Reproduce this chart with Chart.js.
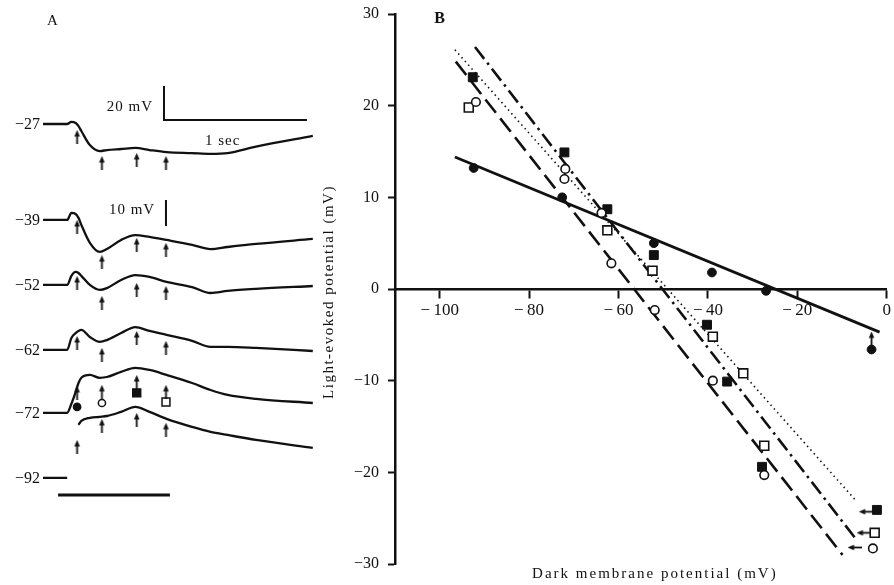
<!DOCTYPE html>
<html>
<head>
<meta charset="utf-8">
<script src="https://cdn.jsdelivr.net/npm/chart.js@4.4.0/dist/chart.umd.min.js"></script>
<style>
  html, body { margin: 0; padding: 0; background: #fff; }
  #wrap { position: relative; width: 894px; height: 585px; }
  #traces { position: absolute; left: 0; top: 0; }
  #plot { position: absolute; left: 318px; top: 0; }
</style>
</head>
<body>
<div id="wrap">
  <canvas id="traces" width="330" height="520"></canvas>
  <canvas id="plot" width="576" height="585"></canvas>
</div>
<script>
// ---- panel A: recordings (time in s, deflection in mV of the 10 mV bar) ----
const traceHolding = [-27, -39, -52, -62, -72, -92];
const traceTimes = [0, 0.17, 0.2, 0.23, 0.25, 0.27, 0.33, 0.4, 0.45, 0.55, 0.65, 0.75, 0.87, 1.05, 1.18, 1.3, 1.5, 1.9];
const trace27 = [0, 0, 0.8, 0.4, -0.8, -2.7, -8.1, -10.4, -10, -9.6, -9.2, -10, -10.8, -11.2, -11.5, -11.2, -8.7, -4.6];
const trace39 = [0, 0, 2.7, 2.3, 0.8, -1.9, -8.8, -12.3, -11.2, -7.7, -5.8, -6.5, -7.7, -9.6, -11.2, -10.4, -9.2, -7.3];
const trace52 = [0, 0, 3.5, 5, 4.6, 3.5, 0, -1.9, -1.2, 1.9, 3.8, 3.1, 1.2, -0.8, -3.1, -2.3, -1.5, -0.4];
const trace62 = [0, 0, 4.6, 6.5, 7.3, 7.7, 5, 3.1, 3.8, 6.5, 8.8, 7.3, 5.8, 3.5, 1.2, 1.2, 0.8, -0.4];
const trace72 = [0, 0, 3.5, 8.1, 11.5, 13.5, 14.6, 13.5, 13.8, 15.8, 17.3, 16.5, 14.6, 11.5, 8.8, 6.9, 5.4, 3.8];
const trace92 = [0, 0, null, null, 20.4, 21.9, 23.1, 23.5, 23.8, 25.4, 27.3, 25.4, 22.7, 19.6, 17.7, 16.5, 14.6, 11.5];

// arrows marking the sampled times
const arrowTimes = [0.24, 0.415, 0.66, 0.866];
const arrows27 = [-5, -15, -13.8, -15];
const arrows39 = [-2.7, -16.2, -9.6, -11.5];
const arrows52 = [0.8, -6.9, -1.9, -3.1];
const arrows62 = [2.7, -1.9, 4.6, 0.8];
const arrows72 = [7.7, 8.1, 11.9, 8.1];
const arrows92 = [11.9, 20, 22.3, 18.5];
const keySymbols72 = [2.3, 3.8, 7.7, 4.2];

// ---- panel B: light-evoked potential vs dark membrane potential ----
const filledCircleV = [-92.4, -72.6, -52.1, -39.1, -27.0, -3.4];
const filledCircleE = [13.2, 10.0, 5.0, 1.8, -0.2, -6.6];
const openCircleV = [-91.9, -71.9, -72.1, -63.8, -61.6, -51.9, -38.9, -27.4, -3.1];
const openCircleE = [20.4, 13.1, 12.0, 8.3, 2.8, -2.3, -10.0, -20.3, -28.3];
const filledSquareV = [-92.6, -72.1, -62.5, -52.1, -40.2, -35.7, -27.9, -2.2];
const filledSquareE = [23.1, 14.9, 8.7, 3.7, -3.9, -10.1, -19.4, -24.1];
const openSquareV = [-93.5, -62.5, -52.4, -38.9, -32.1, -27.4, -2.7];
const openSquareE = [19.8, 6.4, 2.0, -5.2, -9.2, -17.1, -26.6];

const solidFitV = [-96.6, -1.6], solidFitE = [14.4, -4.7];
const dottedFitV = [-96.6, -6.7], dottedFitE = [26.1, -23.2];
const dashDotFitV = [-92.1, -6.7], dashDotFitE = [26.4, -27.4];
const longDashFitV = [-96.4, -9.9], longDashFitE = [24.8, -29.0];

const offScaleV = [-3.4, -4.7, -5.2, -7.2];
const offScaleE = [-5.4, -24.3, -26.6, -28.2];
const offScaleTurn = [0, -90, -90, -90];

const xTickValues = [-100, -80, -60, -40, -20, 0];
const yTickValues = [-30, -20, -10, 0, 10, 20, 30];

// layout of panel A (display units, 2.6 px per unit)
const traceLevel = [-47.7, -84.6, -109.6, -134.6, -158.8, -183.8];
const INK = '#111';
const SERIF = '"Liberation Serif", "DejaVu Serif", serif';

function arrowImage() {
  const c = document.createElement('canvas');
  c.width = 7; c.height = 14;
  const g = c.getContext('2d');
  g.fillStyle = INK;
  g.fillRect(2.6, 4, 1.8, 10);
  g.beginPath();
  g.moveTo(3.5, 0); g.lineTo(6.3, 6.5); g.lineTo(0.7, 6.5); g.closePath();
  g.fill();
  return c;
}
const arrowImg = arrowImage();

const neg = v => v < 0 ? '\u2212' + Math.abs(v) : String(v);
const pts = (xs, ys) => xs.map((x, i) => ({ x, y: ys[i] }));

// ---------------- panel A ----------------
const traceSets = [trace27, trace39, trace52, trace62, trace72, trace92];
const arrowSets = [arrows27, arrows39, arrows52, arrows62, arrows72, arrows92];
const aData = [];

traceSets.forEach((vals, i) => {
  aData.push({
    type: 'line',
    data: traceTimes.map((t, j) => ({ x: t, y: vals[j] === null ? null : traceLevel[i] + vals[j] })),
    borderColor: INK, borderWidth: 2.3, pointRadius: 0,
    cubicInterpolationMode: 'monotone', spanGaps: false
  });
  aData.push({
    type: 'scatter',
    data: arrowTimes.map((t, j) => ({ x: t, y: traceLevel[i] + arrowSets[i][j] })),
    pointStyle: arrowImg, pointRadius: 5
  });
});

const keyStyles = [
  { pointStyle: 'circle', pointRadius: 3.6, backgroundColor: INK },
  { pointStyle: 'circle', pointRadius: 3.6, backgroundColor: '#fff' },
  { pointStyle: 'rect', pointRadius: 5.6, backgroundColor: INK },
  { pointStyle: 'rect', pointRadius: 5.6, backgroundColor: '#fff' }
];
keySymbols72.forEach((v, j) => {
  aData.push(Object.assign({
    type: 'scatter',
    data: [{ x: arrowTimes[j], y: traceLevel[4] + v }],
    borderColor: INK, borderWidth: 1.5
  }, keyStyles[j]));
});

// scale bars and light stimulus
const barLine = (xs, ys, w) => ({
  type: 'line', data: pts(xs, ys), borderColor: INK, borderWidth: w,
  pointRadius: 0, tension: 0
});
aData.push(barLine([0.852, 0.852, 1.859], [-33.1, -46.2, -46.2], 2));
aData.push(barLine([0.866, 0.866], [-76.9, -86.9], 2));
aData.push(barLine([0.106, 0.894], [-190.4, -190.4], 3));

const panelALabels = {
  id: 'panelALabels',
  afterDraw(chart) {
    const { ctx, scales: { x, y } } = chart;
    ctx.save();
    ctx.fillStyle = INK;
    ctx.font = '16px ' + SERIF;
    ctx.textBaseline = 'middle';
    ctx.textAlign = 'right';
    traceHolding.forEach((v, i) => {
      ctx.fillText(neg(v), x.getPixelForValue(0) - 3, y.getPixelForValue(traceLevel[i]) + 1);
    });
    ctx.font = '15px ' + SERIF;
    ctx.letterSpacing = '1px';
    ctx.fillText('20 mV', x.getPixelForValue(0.775), y.getPixelForValue(-41.2));
    ctx.fillText('10 mV', x.getPixelForValue(0.79), y.getPixelForValue(-80.8));
    ctx.textAlign = 'left';
    ctx.fillText('1 sec', x.getPixelForValue(1.14), y.getPixelForValue(-54.2));
    ctx.textAlign = 'center';
    ctx.fillText('A', x.getPixelForValue(0.07), y.getPixelForValue(-8.1));
    ctx.restore();
  }
};

new Chart(document.getElementById('traces'), {
  type: 'line',
  data: { datasets: aData },
  options: {
    responsive: false, animation: false,
    layout: { padding: 0, autoPadding: false },
    plugins: { legend: { display: false }, tooltip: { enabled: false } },
    scales: {
      x: { type: 'linear', display: false, min: -43 / 142, max: 287 / 142 },
      y: { type: 'linear', display: false, min: -200, max: 0 }
    }
  },
  plugins: [panelALabels]
});

// ---------------- panel B ----------------
const fitLine = (xs, ys, dash, w) => ({
  type: 'line', data: pts(xs, ys), borderColor: INK, borderWidth: w,
  borderDash: dash, pointRadius: 0, order: 2
});

const panelBLabels = {
  id: 'panelBLabels',
  afterDraw(chart) {
    const { ctx, chartArea, scales: { x, y } } = chart;
    ctx.save();
    ctx.fillStyle = INK;
    ctx.textAlign = 'center';
    ctx.textBaseline = 'middle';
    ctx.font = 'bold 16px ' + SERIF;
    ctx.fillText('B', x.getPixelForValue(-100), y.getPixelForValue(30) + 5);
    ctx.font = '15px ' + SERIF;
    ctx.letterSpacing = '2px';
    ctx.fillText('Dark membrane potential (mV)', (chartArea.left + chartArea.right) / 2 + 14, chart.height - 11);
    ctx.translate(11, (chartArea.top + chartArea.bottom) / 2 + 3);
    ctx.rotate(-Math.PI / 2);
    ctx.letterSpacing = '1.5px';
    ctx.fillText('Light-evoked potential (mV)', 0, 0);
    ctx.restore();
  }
};

new Chart(document.getElementById('plot'), {
  type: 'scatter',
  data: {
    datasets: [
      { data: pts(filledCircleV, filledCircleE), pointStyle: 'circle', pointRadius: 4.4,
        backgroundColor: INK, borderColor: INK, borderWidth: 1, order: 0 },
      { data: pts(openCircleV, openCircleE), pointStyle: 'circle', pointRadius: 4.3,
        backgroundColor: '#fff', borderColor: INK, borderWidth: 1.6, order: 0 },
      { data: pts(filledSquareV, filledSquareE), pointStyle: 'rect', pointRadius: 6.3,
        backgroundColor: INK, borderColor: INK, borderWidth: 1, order: 0 },
      { data: pts(openSquareV, openSquareE), pointStyle: 'rect', pointRadius: 6.3,
        backgroundColor: '#fff', borderColor: INK, borderWidth: 1.6, order: 0 },
      { data: pts(offScaleV, offScaleE), pointStyle: arrowImg, pointRadius: 5,
        rotation: offScaleTurn, order: 0 },
      fitLine(solidFitV, solidFitE, [], 2.8),
      fitLine(dottedFitV, dottedFitE, [1.5, 3.5], 1.6),
      fitLine(dashDotFitV, dashDotFitE, [15, 5, 2.5, 5], 2.6),
      fitLine(longDashFitV, longDashFitE, [17, 7], 2.6)
    ]
  },
  options: {
    responsive: false, animation: false,
    layout: { padding: { left: 0, right: 7, top: 14, bottom: 21 }, autoPadding: false },
    plugins: { legend: { display: false }, tooltip: { enabled: false } },
    scales: {
      x: {
        type: 'linear', min: -110, max: 0,
        position: { y: 0 },
        afterBuildTicks: s => { s.ticks = xTickValues.map(v => ({ value: v })); },
        grid: { display: true, drawOnChartArea: false, drawTicks: true, tickLength: 8, tickWidth: 2, color: INK },
        border: { display: true, width: 2.5, color: INK },
        ticks: {
          color: INK, padding: 3, maxRotation: 0,
          font: { family: SERIF, size: 17 },
          callback: v => v < 0 ? '\u2212\u2009' + Math.abs(v) : String(v)
        }
      },
      y: {
        type: 'linear', min: -30, max: 30,
        afterBuildTicks: s => { s.ticks = yTickValues.map(v => ({ value: v })); },
        afterFit: s => { s.width = 77; s.paddingTop = 0; s.paddingBottom = 0; },
        grid: { display: true, drawOnChartArea: false, drawTicks: true, tickLength: 7, tickWidth: 2, color: INK },
        border: { display: true, width: 2.5, color: INK },
        ticks: {
          color: INK, padding: 9,
          font: { family: SERIF, size: 16 },
          callback: v => neg(v)
        }
      }
    }
  },
  plugins: [panelBLabels]
});
</script>
</body>
</html>
